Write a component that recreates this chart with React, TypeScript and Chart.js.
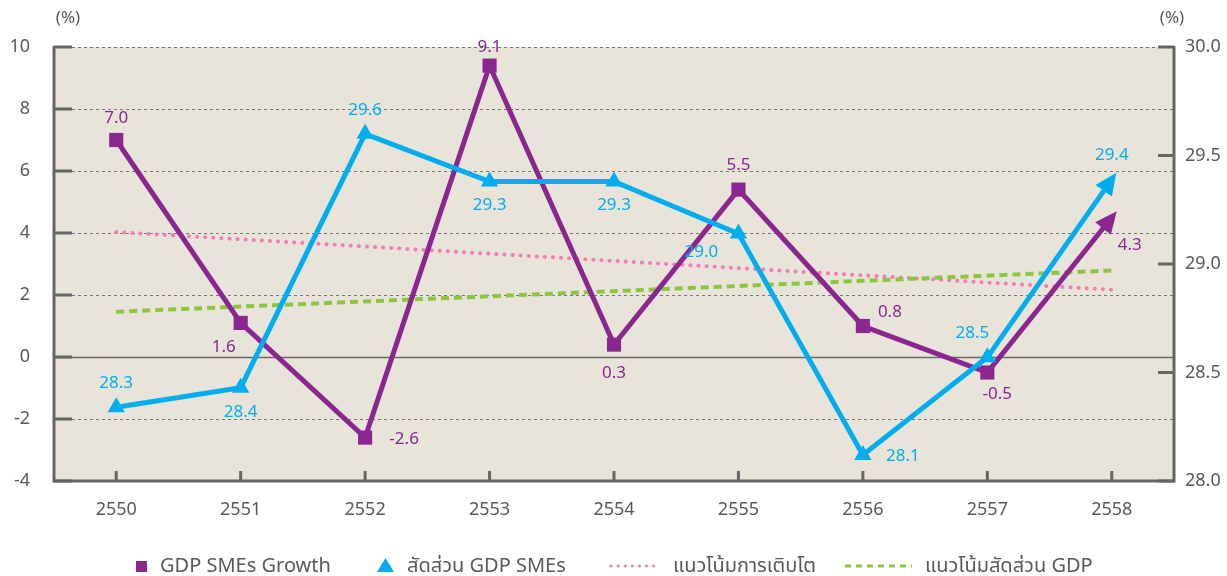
import React, { useEffect, useRef } from "react";
import { Chart, registerables } from "chart.js";

Chart.register(...registerables);

const categories = ["2550", "2551", "2552", "2553", "2554", "2555", "2556", "2557", "2558"];
const growthValues = [7.0, 1.1, -2.6, 9.4, 0.4, 5.4, 1.0, -0.5, 4.5];
const growthLabels = ["7.0", "1.6", "-2.6", "9.1", "0.3", "5.5", "0.8", "-0.5", "4.3"];
const shareValues = [28.34, 28.43, 29.6, 29.38, 29.38, 29.14, 28.12, 28.57, 29.39];
const shareLabels = ["28.3", "28.4", "29.6", "29.3", "29.3", "29.0", "28.1", "28.5", "29.4"];
const growthTrend = [4.03, null, null, null, null, null, null, null, 2.17];
const shareTrend = [28.78, null, null, null, null, null, null, null, 28.97];
const leftTicks = [-4, -2, 0, 2, 4, 6, 8, 10];
const rightTicks = [28.0, 28.5, 29.0, 29.5, 30.0];
const legendLabels = ["GDP SMEs Growth", "สัดส่วน GDP SMEs", "แนวโน้มการเติบโต", "แนวโน้มสัดส่วน GDP"];

// label offsets (style, px)
const growthLabelOffsets = [[0, -22], [-17, 24], [39, 2], [0, -18], [0, 29], [0, -24], [27, -14], [10, 22], [18, 28]];
const shareLabelOffsets = [[0, -24], [0, 24], [0, -24], [0, 24], [0, 24], [-37, 19], [40, 1], [-15, -24], [0, -24]];

const PURPLE = "#8B2690";
const BLUE = "#00AEEF";
const PINK = "#F47DB4";
const GREEN = "#8CC63F";
const TEXT = "#595959";
const AXIS = "#666666";
const BG = "#E8E4DA";
const FONT = "'Noto Sans', 'Noto Sans Thai', sans-serif";

const customPlugin = {
  id: "custom",
  beforeDraw(chart: any) {
    const { ctx, chartArea: a } = chart;
    ctx.save();
    ctx.fillStyle = BG;
    ctx.fillRect(a.left, a.top, a.right - a.left, a.bottom - a.top);
    ctx.restore();
  },
  beforeDatasetsDraw(chart: any) {
    const { ctx, chartArea: a, scales } = chart;
    const y = scales.y, y1 = scales.y1, x = scales.x;
    ctx.save();
    leftTicks.forEach((v) => {
      if (v === -4) return;
      const py = Math.round(y.getPixelForValue(v)) + 0.5;
      ctx.beginPath();
      if (v === 0) {
        ctx.setLineDash([]);
        ctx.strokeStyle = "#6a6a6a";
        ctx.lineWidth = 1.5;
      } else {
        ctx.setLineDash([3, 3]);
        ctx.strokeStyle = "#777777";
        ctx.lineWidth = 1;
      }
      ctx.moveTo(a.left, py);
      ctx.lineTo(a.right, py);
      ctx.stroke();
    });
    ctx.setLineDash([]);
    ctx.strokeStyle = AXIS;
    ctx.lineWidth = 3;
    ctx.beginPath();
    ctx.moveTo(a.left, a.top - 1);
    ctx.lineTo(a.left, a.bottom);
    ctx.lineTo(a.right, a.bottom);
    ctx.lineTo(a.right, a.top - 1);
    ctx.stroke();
    leftTicks.forEach((v) => {
      const py = y.getPixelForValue(v);
      ctx.beginPath();
      ctx.moveTo(a.left, py);
      ctx.lineTo(a.left + 18, py);
      ctx.stroke();
    });
    rightTicks.forEach((v) => {
      const py = y1.getPixelForValue(v);
      ctx.beginPath();
      ctx.moveTo(a.right, py);
      ctx.lineTo(a.right - 16, py);
      ctx.stroke();
    });
    categories.forEach((c, i) => {
      const px = x.getPixelForValue(i);
      ctx.beginPath();
      ctx.moveTo(px, a.bottom);
      ctx.lineTo(px, a.bottom - 10);
      ctx.stroke();
    });
    ctx.restore();
  },
  afterDatasetsDraw(chart: any) {
    const { ctx } = chart;
    ctx.save();
    [0, 1].forEach((di) => {
      const meta = chart.getDatasetMeta(di);
      const pts = meta.data;
      const p = pts[pts.length - 1];
      const q = pts[pts.length - 2];
      const ang = Math.atan2(p.y - q.y, p.x - q.x);
      const color = di === 0 ? PURPLE : BLUE;
      const tipX = p.x + Math.cos(ang) * 8;
      const tipY = p.y + Math.sin(ang) * 8;
      const len = 22, half = 10;
      const bx = tipX - Math.cos(ang) * len;
      const by = tipY - Math.sin(ang) * len;
      ctx.fillStyle = color;
      ctx.beginPath();
      ctx.moveTo(tipX, tipY);
      ctx.lineTo(bx + Math.sin(ang) * half, by - Math.cos(ang) * half);
      ctx.lineTo(bx - Math.sin(ang) * half, by + Math.cos(ang) * half);
      ctx.closePath();
      ctx.fill();
    });
    ctx.font = `17px ${FONT}`;
    ctx.textAlign = "center";
    ctx.textBaseline = "middle";
    const m0 = chart.getDatasetMeta(0).data;
    ctx.fillStyle = PURPLE;
    growthLabels.forEach((t, i) => {
      const o = growthLabelOffsets[i];
      ctx.fillText(t, m0[i].x + o[0], m0[i].y + o[1]);
    });
    const m1 = chart.getDatasetMeta(1).data;
    ctx.fillStyle = BLUE;
    shareLabels.forEach((t, i) => {
      const o = shareLabelOffsets[i];
      ctx.fillText(t, m1[i].x + o[0], m1[i].y + o[1]);
    });
    ctx.fillStyle = TEXT;
    ctx.font = `17px ${FONT}`;
    ctx.fillText("(%)", 68, 18);
    ctx.fillText("(%)", 1172, 18);
    // legend
    const ly = 566;
    ctx.font = `20px ${FONT}`;
    ctx.textAlign = "left";
    ctx.fillStyle = PURPLE;
    ctx.fillRect(136, ly - 5, 11, 11);
    ctx.fillStyle = TEXT;
    ctx.fillText(legendLabels[0], 160, ly);
    ctx.fillStyle = BLUE;
    ctx.beginPath();
    ctx.moveTo(377, ly + 6);
    ctx.lineTo(394, ly + 6);
    ctx.lineTo(385.5, ly - 8);
    ctx.closePath();
    ctx.fill();
    ctx.fillStyle = TEXT;
    ctx.fillText(legendLabels[1], 407, ly);
    ctx.strokeStyle = PINK;
    ctx.lineWidth = 3;
    ctx.lineCap = "round";
    ctx.setLineDash([0.1, 7]);
    ctx.beginPath();
    ctx.moveTo(611, ly);
    ctx.lineTo(660, ly);
    ctx.stroke();
    ctx.fillStyle = TEXT;
    ctx.fillText(legendLabels[2], 673, ly);
    ctx.strokeStyle = GREEN;
    ctx.lineCap = "butt";
    ctx.setLineDash([6, 5]);
    ctx.beginPath();
    ctx.moveTo(845, ly);
    ctx.lineTo(912, ly);
    ctx.stroke();
    ctx.setLineDash([]);
    ctx.fillStyle = TEXT;
    ctx.fillText(legendLabels[3], 925, ly);
    ctx.restore();
  },
};

export default function App() {
  const ref = useRef<HTMLCanvasElement | null>(null);
  useEffect(() => {
    document.body.style.margin = "0";
    const last = categories.length - 1;
    const chart = new Chart(ref.current as HTMLCanvasElement, {
      type: "line",
      data: {
        labels: categories,
        datasets: [
          {
            label: legendLabels[0],
            data: growthValues,
            yAxisID: "y",
            borderColor: PURPLE,
            backgroundColor: PURPLE,
            borderWidth: 5,
            pointStyle: "rect",
            pointRadius: (c: any) => (c.dataIndex === last ? 0 : 10),
            pointBorderWidth: 0,
            tension: 0,
            order: 1,
          },
          {
            label: legendLabels[1],
            data: shareValues,
            yAxisID: "y1",
            borderColor: BLUE,
            backgroundColor: BLUE,
            borderWidth: 5,
            pointStyle: "triangle",
            pointRadius: (c: any) => (c.dataIndex === last ? 0 : 10),
            pointBorderWidth: 0,
            tension: 0,
            order: 0,
          },
          {
            label: legendLabels[2],
            data: growthTrend,
            yAxisID: "y",
            borderColor: PINK,
            borderWidth: 4,
            borderDash: [0.1, 8],
            borderCapStyle: "round",
            pointRadius: 0,
            spanGaps: true,
            order: 3,
          },
          {
            label: legendLabels[3],
            data: shareTrend,
            yAxisID: "y1",
            borderColor: GREEN,
            borderWidth: 4,
            borderDash: [8, 5],
            pointRadius: 0,
            spanGaps: true,
            order: 2,
          },
        ],
      },
      options: {
        animation: false,
        responsive: false,
        maintainAspectRatio: false,
        layout: { padding: { top: 47, left: 0, right: 0, bottom: 0 } },
        plugins: { legend: { display: false }, tooltip: { enabled: false } },
        scales: {
          x: {
            offset: true,
            grid: { display: false, drawTicks: false },
            border: { display: false },
            ticks: { color: TEXT, font: { family: FONT, size: 18 }, padding: 18 },
            afterFit: (s: any) => {
              s.height = 95;
            },
          },
          y: {
            position: "left",
            min: -4,
            max: 10,
            grid: { display: false, drawTicks: false },
            border: { display: false },
            ticks: { stepSize: 2, color: TEXT, font: { family: FONT, size: 18 }, padding: 24 },
            afterFit: (s: any) => {
              s.width = 54;
            },
          },
          y1: {
            position: "right",
            min: 28,
            max: 30,
            grid: { display: false, drawTicks: false },
            border: { display: false },
            ticks: {
              stepSize: 0.5,
              color: TEXT,
              font: { family: FONT, size: 18 },
              padding: 11,
              callback: (v: any) => Number(v).toFixed(1),
            },
            afterFit: (s: any) => {
              s.width = 53;
            },
          },
        },
      },
      plugins: [customPlugin],
    } as any);
    return () => chart.destroy();
  }, []);
  return <canvas ref={ref} width={1227} height={576} style={{ display: "block" }} />;
}
